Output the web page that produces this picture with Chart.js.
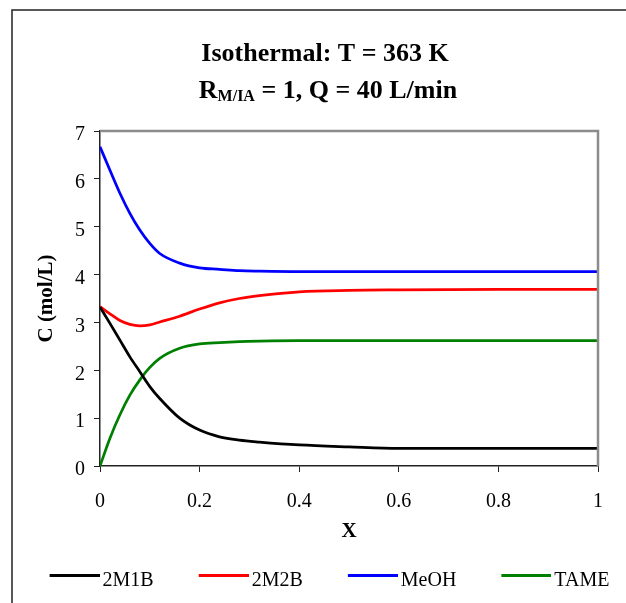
<!DOCTYPE html>
<html>
<head>
<meta charset="utf-8">
<title>Isothermal: T = 363 K</title>
<script src="https://cdn.jsdelivr.net/npm/chart.js@4.4.1/dist/chart.umd.min.js"></script>
<style>
  html, body { margin: 0; padding: 0; background: #fff; }
  #wrap { position: relative; width: 626px; height: 603px; }
</style>
</head>
<body>
<div id="wrap"><canvas id="concChart" width="626" height="603"></canvas></div>
<script>
// values
const xValues = [0, 0.02, 0.04, 0.06, 0.08, 0.1, 0.12, 0.16, 0.2, 0.24, 0.28, 0.32, 0.4, 0.5, 0.6, 0.8, 1.0];
const m1b  = [3.32, 2.98, 2.63, 2.28, 1.97, 1.66, 1.41, 1.00, 0.75, 0.61, 0.54, 0.50, 0.44, 0.40, 0.37, 0.37, 0.37];
const m2b  = [3.33, 3.18, 3.04, 2.96, 2.93, 2.95, 3.01, 3.13, 3.28, 3.41, 3.50, 3.56, 3.64, 3.67, 3.68, 3.69, 3.69];
const meoh = [6.67, 6.18, 5.70, 5.28, 4.93, 4.65, 4.44, 4.24, 4.14, 4.11, 4.08, 4.07, 4.06, 4.06, 4.06, 4.06, 4.06];
const tame = [0, 0.58, 1.07, 1.48, 1.80, 2.06, 2.25, 2.46, 2.55, 2.58, 2.60, 2.61, 2.62, 2.62, 2.62, 2.62, 2.62];

const seriesNames = ['2M1B', '2M2B', 'MeOH', 'TAME'];
const seriesColors = ['#000000', '#ff0000', '#0000ff', '#008000'];
const xTickLabels = ['0', '0.2', '0.4', '0.6', '0.8', '1'];
const yTickLabels = ['0', '1', '2', '3', '4', '5', '6', '7'];

const titleLine1 = 'Isothermal: T = 363 K';
const titleMain = 'R';
const titleSub = 'M/IA';
const titleRest = ' = 1, Q = 40 L/min';

const serif = '"Liberation Serif", "Times New Roman", serif';
Chart.defaults.font.family = serif;
Chart.defaults.color = '#000';

function toPoints(ys) {
    return xValues.map((x, i) => ({ x: x, y: ys[i] }));
}

// legend swatch: short line just left of the label, level with the text top
function makeSwatch(color) {
    const c = document.createElement('canvas');
    c.width = 90;
    c.height = 16;
    const g = c.getContext('2d');
    g.strokeStyle = color;
    g.lineWidth = 3;
    g.beginPath();
    g.moveTo(40, 2.5);
    g.lineTo(90, 2.5);
    g.stroke();
    return c;
}
const swatches = seriesColors.map(makeSwatch);

const framePlugin = {
    id: 'frame',
    beforeDraw(chart) {
        const ctx = chart.ctx;
        ctx.save();
        ctx.strokeStyle = '#222';
        ctx.lineWidth = 1.5;
        ctx.beginPath();
        ctx.moveTo(12, 603);
        ctx.lineTo(12, 10);
        ctx.lineTo(626, 10);
        ctx.stroke();
        ctx.restore();
    },
    afterDatasetsDraw(chart) {
        const a = chart.chartArea;
        const ctx = chart.ctx;
        ctx.save();
        ctx.strokeStyle = '#8c8c8c';
        ctx.lineWidth = 2.5;
        ctx.beginPath();
        ctx.moveTo(a.left, a.top);
        ctx.lineTo(a.right, a.top);
        ctx.lineTo(a.right, a.bottom);
        ctx.stroke();
        ctx.restore();
    },
    afterDraw(chart) {
        const ctx = chart.ctx;
        const big = 'bold 26px ' + serif;
        const small = 'bold 16px ' + serif;
        ctx.save();
        ctx.fillStyle = '#000';
        ctx.textBaseline = 'alphabetic';
        ctx.font = big;
        ctx.textAlign = 'center';
        ctx.fillText(titleLine1, 325, 61);

        ctx.textAlign = 'left';
        const w1 = ctx.measureText(titleMain).width;
        const w3 = ctx.measureText(titleRest).width;
        ctx.font = small;
        const w2 = ctx.measureText(titleSub).width;
        let x = 328 - (w1 + w2 + w3) / 2;
        ctx.font = big;
        ctx.fillText(titleMain, x, 98);
        x += w1;
        ctx.font = small;
        ctx.fillText(titleSub, x, 101);
        x += w2;
        ctx.font = big;
        ctx.fillText(titleRest, x, 98);
        ctx.restore();
    }
};

const ctx = document.getElementById('concChart').getContext('2d');
const concChart = new Chart(ctx, {
    type: 'line',
    data: {
        datasets: [m1b, m2b, meoh, tame].map((ys, i) => ({
            label: seriesNames[i],
            data: toPoints(ys),
            borderColor: seriesColors[i],
            backgroundColor: seriesColors[i],
            borderWidth: 2.75,
            pointRadius: 0,
            cubicInterpolationMode: 'monotone',
            fill: false
        }))
    },
    options: {
        responsive: false,
        animation: false,
        devicePixelRatio: 1,
        layout: {
            padding: { left: 0, right: 0, top: 131, bottom: 2 }
        },
        plugins: {
            title: { display: false },
            tooltip: { enabled: false },
            legend: {
                position: 'bottom',
                labels: {
                    usePointStyle: true,
                    pointStyleWidth: 76,
                    padding: 12,
                    color: '#000',
                    font: { size: 20 },
                    generateLabels(chart) {
                        const items = Chart.defaults.plugins.legend.labels.generateLabels(chart);
                        items.forEach((it, i) => { it.pointStyle = swatches[i]; });
                        return items;
                    }
                }
            }
        },
        scales: {
            x: {
                type: 'linear',
                min: 0,
                max: 1,
                afterFit(scale) { scale.height = 93; },
                border: { color: '#222', width: 1.5 },
                grid: { drawOnChartArea: false, drawTicks: true, tickLength: 6, color: '#222', lineWidth: 1 },
                ticks: {
                    stepSize: 0.2,
                    padding: 18,
                    maxRotation: 0,
                    autoSkip: false,
                    font: { size: 20 },
                    callback: (v, i) => xTickLabels[i]
                },
                title: {
                    display: true,
                    text: 'X',
                    font: { size: 21, weight: 'bold', lineHeight: 1 },
                    padding: { top: 0, bottom: 17 }
                }
            },
            y: {
                min: 0,
                max: 7,
                afterFit(scale) { scale.width = 100; },
                border: { color: '#222', width: 1.5 },
                grid: { drawOnChartArea: false, drawTicks: true, tickLength: 6, color: '#222', lineWidth: 1 },
                ticks: {
                    stepSize: 1,
                    padding: 9,
                    labelOffset: 4,
                    font: { size: 20 },
                    callback: (v, i) => yTickLabels[i]
                },
                title: {
                    display: true,
                    text: 'C (mol/L)',
                    font: { size: 21, weight: 'bold', lineHeight: 1 },
                    padding: { top: 36, bottom: 0 }
                }
            },
            // empty spacer on the right so the plot ends where the original does
            spacer: {
                type: 'linear',
                position: 'right',
                afterFit(scale) { scale.width = 28; },
                border: { display: false },
                grid: { display: false },
                ticks: { display: false }
            }
        }
    },
    plugins: [framePlugin]
});
</script>
</body>
</html>
